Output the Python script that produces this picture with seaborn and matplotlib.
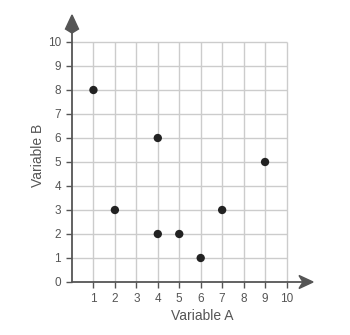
import matplotlib
matplotlib.use("Agg")
import matplotlib.pyplot as plt
from matplotlib.patches import Polygon
import seaborn as sns
import pandas as pd

var_a = [1, 2, 4, 4, 5, 6, 7, 9]
var_b = [8, 3, 6, 2, 2, 1, 3, 5]
x_ticks = [1, 2, 3, 4, 5, 6, 7, 8, 9, 10]
y_ticks = [0, 1, 2, 3, 4, 5, 6, 7, 8, 9, 10]

df = pd.DataFrame({"Variable A": var_a, "Variable B": var_b})

sns.set_style("white")
plt.rcParams['font.family'] = ['Liberation Sans', 'DejaVu Sans']

W, H = 241, 267
fig = plt.figure(figsize=(3.5, 3.35), dpi=100)
ax = fig.add_axes([72/350, 1-282/335, W/350, H/335])

xmax = W/21.45
ymax = H/24.0
ax.set_xlim(0, xmax)
ax.set_ylim(0, ymax)

grid_c = "#cccccc"
ax.vlines(x_ticks, 0, 10, colors=grid_c, linewidth=1, zorder=1)
ax.hlines(y_ticks[1:], 0, 10, colors=grid_c, linewidth=1, zorder=1)

sns.scatterplot(data=df, x="Variable A", y="Variable B", ax=ax, color="#222222",
                s=36, edgecolor="none", zorder=3, legend=False)

for s in ax.spines.values():
    s.set_visible(False)

axc = "#555555"
# axis lines
ax.plot([0, 230/W], [0, 0], color=axc, lw=1.3, transform=ax.transAxes, clip_on=False, zorder=2)
ax.plot([0, 0], [0, 252/H], color=axc, lw=1.3, transform=ax.transAxes, clip_on=False, zorder=2)
# arrow heads (notched)
ax.add_patch(Polygon([(1, 0), (227/W, 6.5/H), (231/W, 0), (227/W, -6.5/H)],
                     closed=True, transform=ax.transAxes, color=axc, clip_on=False, zorder=2))
ax.add_patch(Polygon([(0, 1), (6.5/W, 253/H), (0, 249/H), (-6.5/W, 253/H)],
                     closed=True, transform=ax.transAxes, color=axc, clip_on=False, zorder=2))

ax.set_xticks(x_ticks)
ax.set_yticks(y_ticks)
ax.set_xticklabels([str(v) for v in x_ticks])
ax.set_yticklabels([str(v) for v in y_ticks])
ax.tick_params(axis="both", direction="out", length=4, width=1, color=axc,
               labelsize=8.5, labelcolor="#555555", pad=4)
ax.tick_params(axis="x", bottom=True)
ax.tick_params(axis="y", left=True)

ax.set_xlabel("Variable A", fontsize=10, color="#555555")
ax.set_ylabel("Variable B", fontsize=10, color="#555555")
ax.xaxis.set_label_coords(130/W, -27/H)
ax.yaxis.set_label_coords(-27/W, 127/H)

fig.savefig("out.png", dpi=100, facecolor="white")
